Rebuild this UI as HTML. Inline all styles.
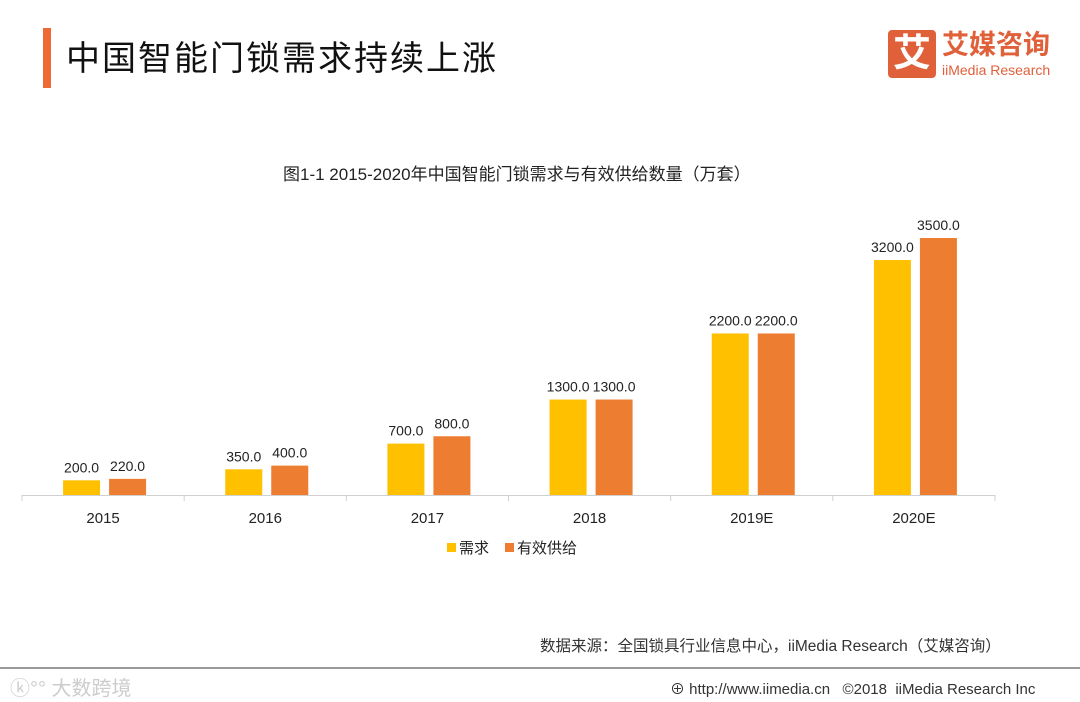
<!DOCTYPE html>
<html><head><meta charset="utf-8"><style>
body{margin:0;width:1080px;height:702px;background:#fff;overflow:hidden;position:relative;font-family:"Liberation Sans","Noto Sans CJK SC",sans-serif}
.a{position:absolute}
</style></head><body>
<div class="a" style="left:43px;top:28px;width:8px;height:60px;background:#EE6A35"></div>
<div class="a" style="left:66px;top:31px;font-size:34px;color:#111;letter-spacing:2px">中国智能门锁需求持续上涨</div>
<div class="a" style="left:888px;top:30px;width:48px;height:48px;background:#E0603A;border-radius:4px;color:#fff;font-size:38px;line-height:48px;text-align:center;font-weight:bold">艾</div>
<div class="a" style="left:942px;top:30px;font-size:27px;color:#E0603A;font-weight:bold;line-height:30px">艾媒咨询</div>
<div class="a" style="left:942px;top:62px;font-size:14px;color:#E0603A;line-height:16px">iiMedia Research</div>
<div class="a" style="left:283px;top:160px;font-size:17px;color:#222;white-space:nowrap">图1-1 2015-2020年中国智能门锁需求与有效供给数量（万套）</div>
<svg class="a" style="left:0;top:0" width="1080" height="702" id="ch"></svg>
<div class="a" style="left:540px;top:634px;font-size:15.5px;color:#333;white-space:nowrap">数据来源：全国锁具行业信息中心，iiMedia Research（艾媒咨询）</div>
<div class="a" style="left:0;top:667px;width:1080px;height:2px;background:#999"></div>
<div class="a" style="left:10px;top:672px;font-size:20px;color:#ccc">ⓚ°° 大数跨境</div>
<div class="a" style="left:670px;top:678px;font-size:15px;color:#333;white-space:nowrap">⊕ http://www.iimedia.cn &nbsp;&nbsp;©2018 &nbsp;iiMedia Research Inc</div>
<script>
const categories=["2015","2016","2017","2018","2019E","2020E"];
const demand=[200,350,700,1300,2200,3200];
const supply=[220,400,800,1300,2200,3500];
const seriesNames=["需求","有效供给"];
const colors=["#FFC000","#ED7D31"];
const svg=document.getElementById('ch');const NS="http://www.w3.org/2000/svg";
const x0=22,x1=995,base=495,scale=257/3500;
const bw=(x1-x0)/categories.length;
const y=v=>base-v*scale;
function mk(t,a){const e=document.createElementNS(NS,t);for(const k in a)e.setAttribute(k,a[k]);svg.appendChild(e);return e;}
const ax=mk('line',{x1:x0,x2:x1,y1:base+0.5,y2:base+0.5,stroke:'#d0d0d0'});


for(let i=0;i<=categories.length;i++){const t=mk('line',{x1:x0+i*bw,x2:x0+i*bw,y1:base,y2:base+6,stroke:'#d0d0d0'});

}
categories.forEach((c,i)=>{const cx=x0+bw*(i+0.5);
[demand,supply].forEach((s,j)=>{const bx=j?cx+6:cx-40;
const r=mk('rect',{x:bx,y:y(s[i]),width:37,height:base-y(s[i]),fill:colors[j]});


const l=mk('text',{x:bx+18.5,y:y(s[i])-8,'text-anchor':'middle','font-size':14,fill:'#222'});l.textContent=s[i].toFixed(1);

});
const tl=mk('text',{x:cx,y:523,'text-anchor':'middle','font-size':15,fill:'#222'});tl.textContent=c;

});
[[447,0],[505,1]].forEach(([lx,j])=>{const r=mk('rect',{x:lx,y:543,width:9,height:9,fill:colors[j]});


const t=mk('text',{x:lx+12,y:553,'font-size':15,fill:'#222'});t.textContent=seriesNames[j];

});
</script>
</body></html>
